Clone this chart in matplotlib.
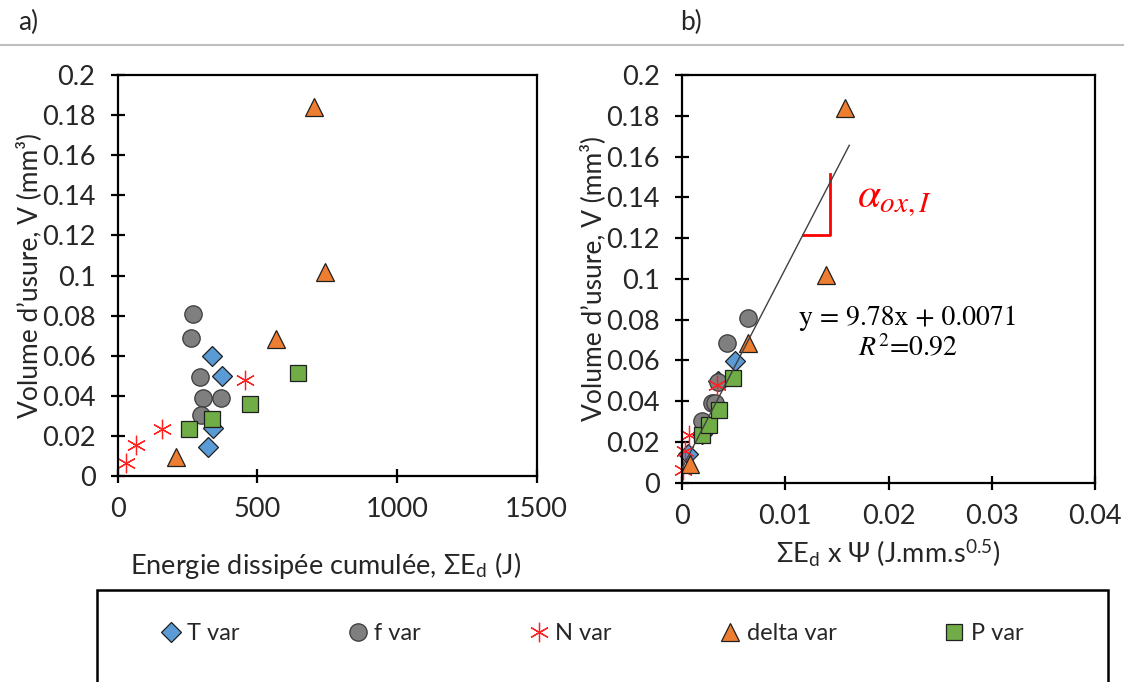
import numpy as np
import matplotlib
matplotlib.use('Agg')
import matplotlib.pyplot as plt
from matplotlib.patches import Rectangle
from matplotlib.lines import Line2D
from matplotlib.ticker import FuncFormatter

plt.rcParams['font.family'] = ['Lato', 'DejaVu Sans']
plt.rcParams['mathtext.fontset'] = 'stix'

# series: V (mm3), cumulated energy (J), Ed x Psi
t_v = [0.0599, 0.050, 0.0238, 0.0143]
t_ed = [338, 375, 342, 325]
t_edpsi = [0.00513, 0.0035, 0.0019, 0.00061]

f_v = [0.0808, 0.0687, 0.0495, 0.039, 0.039, 0.0304]
f_ed = [269, 264, 295, 306, 369, 297]
f_edpsi = [0.00642, 0.00439, 0.00352, 0.00287, 0.0032, 0.0019]

n_v = [0.0063, 0.0155, 0.0233, 0.0479]
n_ed = [29, 67, 158, 456]
n_edpsi = [0.0001, 0.0003, 0.0007, 0.00336]

d_v = [0.184, 0.102, 0.0683, 0.0093]
d_ed = [701, 742, 567, 209]
d_edpsi = [0.0158, 0.0139, 0.0064, 0.00077]

p_v = [0.0233, 0.0284, 0.0359, 0.0515]
p_ed = [254, 338, 475, 646]
p_edpsi = [0.00194, 0.00258, 0.00355, 0.00491]

labels = ['T var', 'f var', 'N var', 'delta var', 'P var']

# linear fit shown on b)
slope = 9.78
intercept = 0.0071
fit_x = [0.0, 0.0162]

series = [
    (t_ed, t_edpsi, t_v, dict(marker='D', ms=10, mfc='#5B9BD5', mec='#1f1f1f', mew=0.9)),
    (f_ed, f_edpsi, f_v, dict(marker='o', ms=12.5, mfc='#7F7F7F', mec='#3a3a3a', mew=0.9)),
    (n_ed, n_edpsi, n_v, dict(marker=(6, 2, 0), ms=14, mfc='none', mec='#FF2020', mew=0.9)),
    (d_ed, d_edpsi, d_v, dict(marker='^', ms=13, mfc='#ED7D31', mec='#1f1f1f', mew=0.9)),
    (p_ed, p_edpsi, p_v, dict(marker='s', ms=12, mfc='#70AD47', mec='#1f1f1f', mew=0.9)),
]

fig = plt.figure(figsize=(11.24, 6.82), dpi=100)
ax1 = fig.add_axes([0.1047, 0.302, 0.3728, 0.588])
ax2 = fig.add_axes([0.6068, 0.2922, 0.3674, 0.5978])

handles = []
for (ed, edpsi, v, style), lab in zip(series, labels):
    h, = ax1.plot(ed, v, ls='none', label=lab, clip_on=False, **style)
    ax2.plot(edpsi, v, ls='none', clip_on=False, **style)
    handles.append(h)

fx = np.array(fit_x)
ax2.plot(fx, slope * fx + intercept, color='#404040', lw=1.0, zorder=3)

# slope marker
ax2.plot([0.01174, 0.01433, 0.01433], [0.1215, 0.1215, 0.1513], color='red', lw=2.0)
ax2.text(0.0206, 0.1387, r'$\alpha_{ox,I}$', color='red', fontsize=30,
         ha='center', va='center')
ax2.text(0.0219, 0.0805, 'y = 9.78x + 0.0071', family='STIXGeneral',
         fontsize=20, ha='center', va='center')
ax2.text(0.0219, 0.0658, r'$R^2$=0.92', family='STIXGeneral',
         fontsize=20, ha='center', va='center')

fmt = FuncFormatter(lambda v, p: '%g' % round(v, 4))
for ax in (ax1, ax2):
    ax.set_ylim(0, 0.2)
    ax.set_yticks(np.arange(0, 0.2001, 0.02))
    ax.yaxis.set_major_formatter(fmt)
    ax.xaxis.set_major_formatter(fmt)
    for s in ax.spines.values():
        s.set_linewidth(1.6)
    ax.tick_params(direction='inout', length=10, width=1.6, labelsize=19.5,
                   colors='black', labelcolor='#262626')
    ax.tick_params(axis='y', pad=11)
    ax.tick_params(axis='x', pad=10)

ax1.set_xlim(0, 1500)
ax1.set_xticks([0, 500, 1000, 1500])
ax2.set_xlim(0, 0.04)
ax2.set_xticks([0, 0.01, 0.02, 0.03, 0.04])

ax1.set_xlabel(r'Energie dissipée cumulée, ΣE$_{\mathregular{d}}$ (J)', fontsize=19.5, color='#262626')
ax2.set_xlabel(r'ΣE$_{\mathregular{d}}$ x Ψ (J.mm.s$^{\mathregular{0.5}}$)', fontsize=19.5, color='#262626')
ax1.set_ylabel('Volume d’usure, V (mm³)', fontsize=19, color='#262626')
ax2.set_ylabel('Volume d’usure, V (mm³)', fontsize=19, color='#262626')
ax1.xaxis.set_label_coords(0.495, -0.185)
ax2.xaxis.set_label_coords(0.501, -0.135)
ax1.yaxis.set_label_coords(-0.18, 0.5)
ax2.yaxis.set_label_coords(-0.185, 0.5)

# panel letters and separator
fig.text(18 / 1124, 1 - 22 / 682, 'a)', fontsize=19, va='center', color='#262626')
fig.text(680 / 1124, 1 - 22 / 682, 'b)', fontsize=19, va='center', color='#262626')
fig.add_artist(Line2D([0, 1], [1 - 45 / 682] * 2, color='#BFBFBF', lw=1.5))

# legend frame
fig.add_artist(Rectangle((97 / 1124, -0.05), (1108 - 97) / 1124, 0.05 + 1 - 590 / 682,
                         fill=False, ec='black', lw=1.8))
fig.legend(handles=handles, labels=labels, loc='center', ncol=5,
           bbox_to_anchor=(0.527, 1 - 634 / 682), frameon=False, fontsize=17,
           handlelength=0.8, handletextpad=0.3, columnspacing=4.6,
           labelcolor='#262626')

fig.savefig('out.png', dpi=100)
